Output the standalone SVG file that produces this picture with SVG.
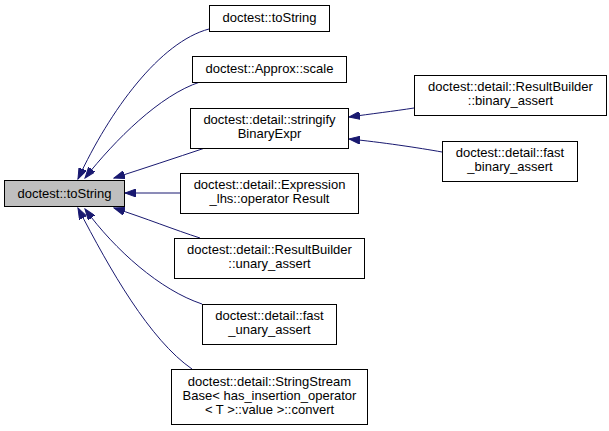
<svg xmlns="http://www.w3.org/2000/svg" width="609" height="431" viewBox="0 0 609 431">
<style>
.n rect{fill:#fff;stroke:#000;stroke-width:1}
.n.m rect{fill:#bfbfbf}
text{font-family:"Liberation Sans",Arial,sans-serif;font-size:13px;text-anchor:middle;fill:#000}
.e path{fill:none;stroke:#191970;stroke-width:1;marker-end:url(#a)}
</style>
<defs>
<marker id="a" markerUnits="userSpaceOnUse" markerWidth="12" markerHeight="8" refX="11" refY="4" orient="auto">
<path d="M0,0 L11,4 L0,8 z" fill="#191970" stroke="#191970"/>
</marker>
</defs>
<rect width="609" height="431" fill="#fff"/>
<g class="e" id="edges">
<path d="M209,29 C160,42 110,110 78,179"/>
<path d="M200,82 C160,95 115,140 85,178"/>
<path d="M205,148 C175,158 145,168 114,178"/>
<path d="M180,193 L125,193"/>
<path d="M200,238 C175,230 145,218 114,208"/>
<path d="M202,304 C160,290 115,250 85,209"/>
<path d="M192,369 C150,340 110,270 78,208"/>
<path d="M414,108 C395,111 370,114 349,117"/>
<path d="M442,152 C420,148 380,142 349,139"/>
</g>
<g class="n m" id="main"><rect x="4.5" y="180.5" width="120" height="26"/><text x="64.5" y="198">doctest::toString</text></g>
<g class="n" id="n1"><rect x="209.5" y="5.5" width="120" height="26"/><text x="269.5" y="22">doctest::toString</text></g>
<g class="n" id="n2"><rect x="192.5" y="56.5" width="154" height="26"/><text x="269.5" y="73">doctest::Approx::scale</text></g>
<g class="n" id="n3"><rect x="190.5" y="108.5" width="158" height="40"/><text x="269.5" y="124">doctest::detail::stringify</text><text x="269.5" y="138">BinaryExpr</text></g>
<g class="n" id="n4"><rect x="180.5" y="173.5" width="178" height="40"/><text x="269.5" y="189">doctest::detail::Expression</text><text x="269.5" y="203">_lhs::operator Result</text></g>
<g class="n" id="n5"><rect x="174.5" y="238.5" width="190" height="40"/><text x="269.5" y="254">doctest::detail::ResultBuilder</text><text x="269.5" y="268">::unary_assert</text></g>
<g class="n" id="n6"><rect x="202.5" y="304.5" width="134" height="40"/><text x="269.5" y="320">doctest::detail::fast</text><text x="269.5" y="334">_unary_assert</text></g>
<g class="n" id="n7"><rect x="171.5" y="369.5" width="196" height="55"/><text x="269.5" y="386">doctest::detail::StringStream</text><text x="269.5" y="400">Base&lt; has_insertion_operator</text><text x="269.5" y="414">&lt; T &gt;::value &gt;::convert</text></g>
<g class="n" id="n8"><rect x="414.5" y="75.5" width="192" height="40"/><text x="510.5" y="91">doctest::detail::ResultBuilder</text><text x="510.5" y="105">::binary_assert</text></g>
<g class="n" id="n9"><rect x="442.5" y="141.5" width="135" height="40"/><text x="510" y="157">doctest::detail::fast</text><text x="510" y="171">_binary_assert</text></g>
</svg>
